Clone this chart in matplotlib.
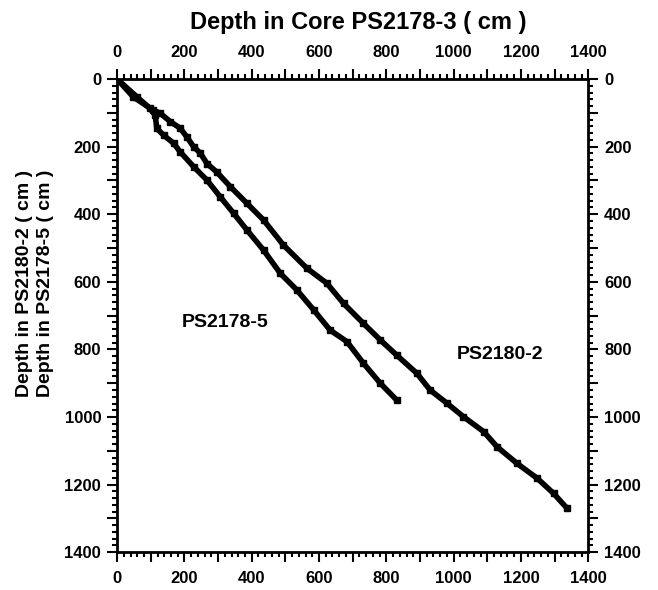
import matplotlib.pyplot as plt
from matplotlib.ticker import MultipleLocator, FuncFormatter

plt.rcParams['font.family'] = ['Liberation Sans', 'DejaVu Sans']
plt.rcParams['font.weight'] = 'bold'

# PS2180-2 depth vs PS2178-3 depth
x_2180 = [0, 48, 107, 128, 158, 187, 207, 227, 247, 267, 296, 336, 386, 435, 494,
          564, 623, 673, 732, 782, 831, 891, 930, 980, 1029, 1089, 1129, 1188,
          1248, 1297, 1337]
y_2180 = [0, 53, 92, 101, 126, 145, 171, 200, 219, 250, 275, 318, 368, 417, 491,
          560, 604, 664, 723, 772, 817, 871, 920, 959, 999, 1043, 1088, 1137,
          1181, 1226, 1270]

# PS2178-5 depth vs PS2178-3 depth
x_2178 = [0, 58, 98, 113, 118, 138, 168, 187, 227, 267, 306, 346, 386, 435, 485,
          534, 584, 633, 683, 732, 782, 831]
y_2178 = [0, 52, 87, 107, 146, 166, 190, 215, 259, 299, 348, 397, 447, 506, 575,
          624, 683, 743, 777, 841, 900, 950]

fig = plt.figure(figsize=(6.58, 5.90), dpi=100)
ax = fig.add_axes([0.178, 0.064, 0.716, 0.802])

ax.plot(x_2180, y_2180, color='black', lw=4, marker='s', ms=5)
ax.plot(x_2178, y_2178, color='black', lw=4, marker='s', ms=5)

ax.set_xlim(0, 1400)
ax.set_ylim(1400, 0)

# major ticks every 100 (labels every 200), minor every 20
for axis in (ax.xaxis, ax.yaxis):
    axis.set_major_locator(MultipleLocator(100))
    axis.set_minor_locator(MultipleLocator(20))
    axis.set_major_formatter(FuncFormatter(lambda v, p: f"{int(v)}" if int(v) % 200 == 0 else ""))

ax.tick_params(which='both', direction='out', top=True, right=True,
               labeltop=True, labelright=True, width=1.5)
ax.tick_params(which='major', length=7.5, labelsize=12)
ax.tick_params(which='minor', length=3.5)
ax.tick_params(axis='x', which='major', pad=6)
ax.tick_params(axis='y', which='major', pad=4)
for s in ax.spines.values():
    s.set_linewidth(2)

ax.text(321, 719, "PS2178-5", fontsize=14, fontweight='bold', ha='center', va='center')
ax.text(1138, 814, "PS2180-2", fontsize=14, fontweight='bold', ha='center', va='center')

fig.text(358 / 658, 1 - 22 / 590, "Depth in Core PS2178-3 ( cm )",
         fontsize=17, fontweight='bold', ha='center', va='center')
fig.text(35 / 658, 1 - 283 / 590, "Depth in PS2180-2 ( cm )\nDepth in PS2178-5 ( cm )",
         fontsize=14, fontweight='bold', ha='center', va='center', rotation=90,
         linespacing=1.35)

fig.savefig("out.png", dpi=100)
